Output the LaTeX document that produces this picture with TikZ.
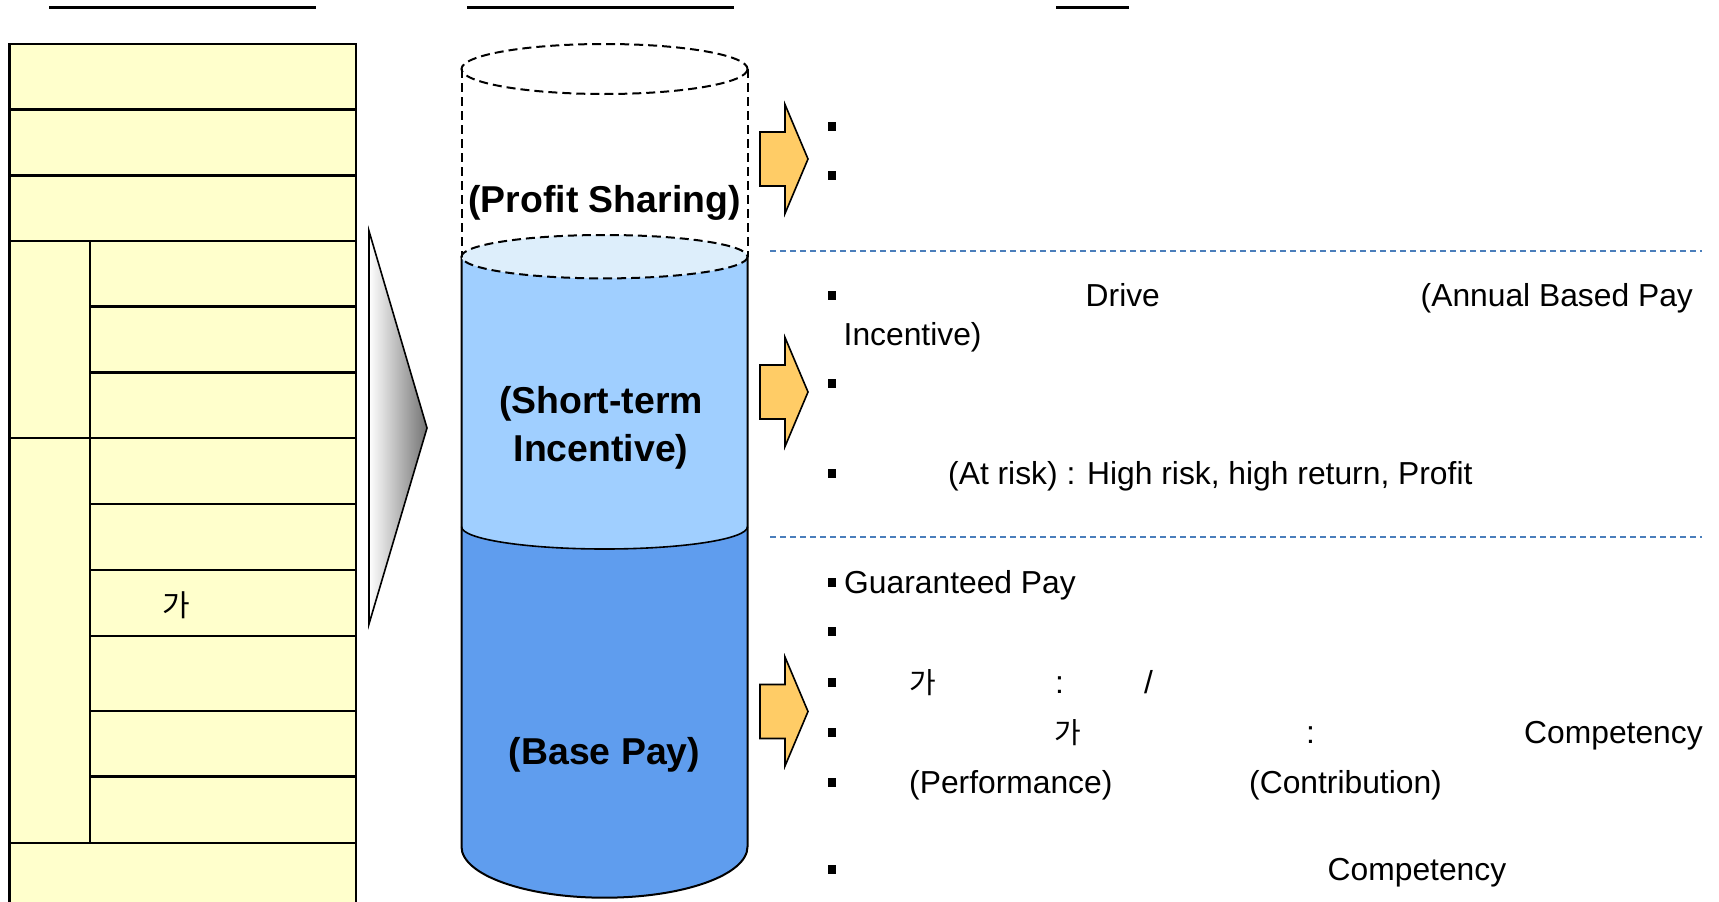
\documentclass[tikz,border=0pt]{standalone}
\usepackage{fontspec}
\setmainfont{Liberation Sans}
\newfontfamily\kofont{Noto Sans CJK KR}
\definecolor{tablefill}{HTML}{FFFFCC}
\definecolor{shortfill}{HTML}{A0CFFF}
\definecolor{basefill}{HTML}{5F9DEE}
\definecolor{levelfill}{HTML}{DDEEFB}
\definecolor{arrowfill}{HTML}{FFCC66}
\definecolor{sepblue}{HTML}{4A7EBB}
\tikzset{
  gridline/.style={line width=2.4pt, black},
  bodytext/.style={anchor=base west, inner sep=0pt, font=\fontsize{31.8}{38}\selectfont},
  kotext/.style={anchor=base west, inner sep=0pt, font=\kofont\fontsize{29}{34}\selectfont},
  bigtext/.style={inner sep=0pt, align=center, font=\fontsize{37.4}{48.2}\selectfont\bfseries},
  cyldash/.style={dash pattern=on 9pt off 5pt, line width=2pt},
  cylline/.style={line width=2pt, black},
  bulletsq/.style={fill=black, draw=none, minimum width=8pt, minimum height=9pt, inner sep=0pt},
  sepline/.style={sepblue, line width=2pt, dash pattern=on 6pt off 4pt},
  titleline/.style={line width=2.2pt, black},
  pics/fatarrow/.style={code={
    \draw[line width=1.6pt, fill=arrowfill, line join=miter]
      (-25,-27) -- (0,-27) -- (0,-54.5) -- (23,0) -- (0,54.5) -- (0,27) -- (-25,27) -- cycle;}}
}
\begin{document}
\begin{tikzpicture}[x=1pt,y=-1pt]
\useasboundingbox (0,0) rectangle (1719,902);

% heading rules
\draw[titleline] (49,7.5) -- (316,7.5);
\draw[titleline] (467,7.5) -- (734,7.5);
\draw[titleline] (1056,7.5) -- (1129,7.5);

% ---- grade table ----
\filldraw[tablefill, draw=black, line width=2.4pt] (9.5,43.9) rectangle (356,906);
\foreach \yy in {109.6,175.4,241.2,438,843}
  \draw[gridline] (9.5,\yy) -- (356,\yy);
\foreach \yy in {306.3,372.3,503.7,569.7,635.7,710.7,776.3}
  \draw[gridline] (90,\yy) -- (356,\yy);
\draw[gridline] (90,241.2) -- (90,843);
\node[inner sep=0pt, font=\kofont\fontsize{30}{34}\selectfont] (tga) at (176,605) {가};

% ---- shaded pointer ----
\shade[left color=white, right color=black!55] (369,231) -- (427,428) -- (369,624) -- cycle;
\draw[line width=1.6pt, line join=miter] (369,231) -- (427,428) -- (369,624) -- cycle;

% ---- cylinder ----
\fill[shortfill] (461.5,256.7) -- (461.5,526.7)
  arc[start angle=180, end angle=0, x radius=143, y radius=22.3] -- (747.5,256.7) -- cycle;
\fill[basefill] (461.5,526.7)
  arc[start angle=180, end angle=0, x radius=143, y radius=22.3] -- (747.5,846.7)
  arc[start angle=0, end angle=180, x radius=143, y radius=51] -- cycle;
\draw[cylline, line width=1.6pt] (461.5,526.7)
  arc[start angle=180, end angle=0, x radius=143, y radius=22.3];
\draw[cylline] (461.5,256.7) -- (461.5,846.7)
  arc[start angle=180, end angle=0, x radius=143, y radius=51] -- (747.5,256.7);
\filldraw[fill=levelfill, draw=black, cyldash] (604.5,256.7) ellipse [x radius=143, y radius=21.7];
\draw[cyldash] (604.5,69) ellipse [x radius=143, y radius=25];
\draw[cyldash] (461.5,69) -- (461.5,256.7);
\draw[cyldash] (747.5,69) -- (747.5,256.7);

\node[bigtext] (profit) at (604.5,202.5) {(Profit Sharing)};
\node[bigtext] (shortterm) at (601,428) {(Short-term\\Incentive)};
\node[bigtext] (base) at (604.5,754.5) {(Base Pay)};

% ---- block arrows ----
\pic (arrA) at (785,159) {fatarrow};
\pic (arrB) at (785,392) {fatarrow};
\pic (arrC) at (785,711.5) {fatarrow};

% ---- separators ----
\draw[sepline] (770,250.5) -- (1702,250.5);
\draw[sepline] (770,537) -- (1702,537);

% ---- profit sharing notes ----
\node[bulletsq] (pa) at (832,126) {};
\node[bulletsq] (pb) at (832,175.4) {};

% ---- short-term incentive notes ----
\node[bulletsq] (sa) at (832,295) {};
\node[bodytext] (sdrive) at (1085.5,306) {Drive};
\node[bodytext] (sannual) at (1420.5,306) {(Annual Based Pay};
\node[bodytext] (sinc) at (843.5,345.5) {Incentive)};
\node[bulletsq] (sb) at (832,383.7) {};
\node[bulletsq] (sc) at (832,473.6) {};
\node[bodytext] (srisk) at (948,484.6) {(At risk) : High risk, high return, Profit};

% ---- base pay notes ----
\node[bulletsq] (ba) at (832,582) {};
\node[bodytext] (bguar) at (844,593) {Guaranteed Pay};
\node[bulletsq] (bb) at (832,631.5) {};
\node[bulletsq] (bc) at (832,682) {};
\node[kotext] (bcga) at (909,693) {가};
\node[bodytext] (bccol) at (1055,693) {:};
\node[bodytext] (bcsl) at (1144,693) {/};
\node[bulletsq] (bd) at (832,732.3) {};
\node[kotext] (bdga) at (1054,743) {가};
\node[bodytext] (bdcol) at (1306,743) {:};
\node[bodytext] (bdcomp) at (1524,743) {Competency};
\node[bulletsq] (be) at (832,782.8) {};
\node[bodytext] (beperf) at (909,793.5) {(Performance)};
\node[bodytext] (becont) at (1249,793.5) {(Contribution)};
\node[bulletsq] (bf) at (832,869.4) {};
\node[bodytext] (bfcomp) at (1327.5,880) {Competency};
\end{tikzpicture}
\end{document}
